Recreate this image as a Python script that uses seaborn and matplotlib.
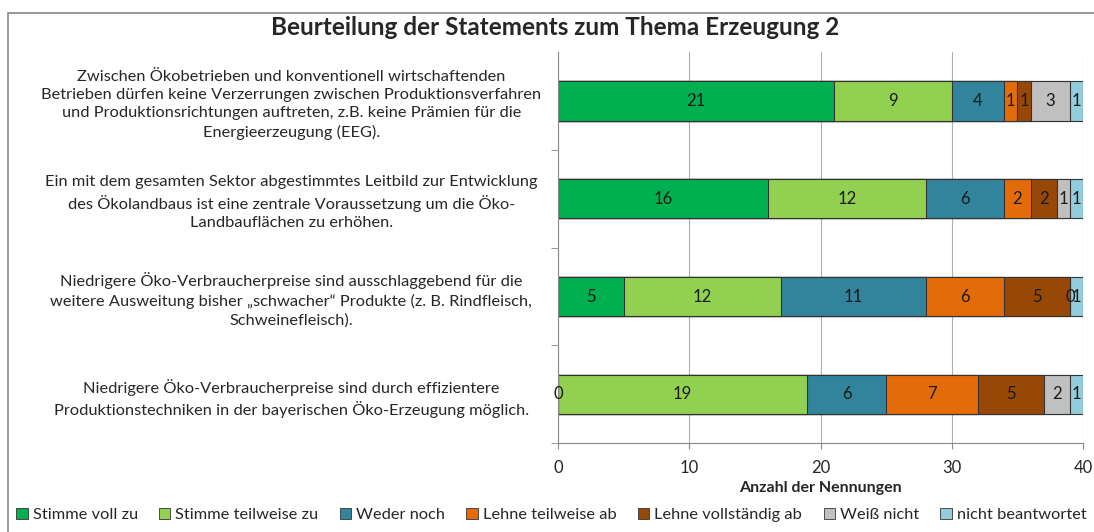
import numpy as np
import pandas as pd
import matplotlib.pyplot as plt
import seaborn as sns
from matplotlib.patches import Rectangle, Patch

# Data
statements = [
    "Zwischen Ökobetrieben und konventionell wirtschaftenden\n"
    "Betrieben dürfen keine Verzerrungen zwischen Produktionsverfahren\n"
    "und Produktionsrichtungen auftreten, z.B. keine Prämien für die\n"
    "Energieerzeugung (EEG).",
    "Ein mit dem gesamten Sektor abgestimmtes Leitbild zur Entwicklung\n"
    "des Ökolandbaus ist eine zentrale Voraussetzung um die Öko-\n"
    "Landbauflächen zu erhöhen.",
    "Niedrigere Öko-Verbraucherpreise sind ausschlaggebend für die\n"
    "weitere Ausweitung bisher „schwacher“ Produkte (z. B. Rindfleisch,\n"
    "Schweinefleisch).",
    "Niedrigere Öko-Verbraucherpreise sind durch effizientere\n"
    "Produktionstechniken in der bayerischen Öko-Erzeugung möglich.",
]
responses = ["Stimme voll zu", "Stimme teilweise zu", "Weder noch",
             "Lehne teilweise ab", "Lehne vollständig ab", "Weiß nicht",
             "nicht beantwortet"]
stimme_voll = [21, 16, 5, 0]
stimme_teilweise = [9, 12, 12, 19]
weder_noch = [4, 6, 11, 6]
lehne_teilweise = [1, 2, 6, 7]
lehne_vollstaendig = [1, 2, 5, 5]
weiss_nicht = [3, 1, 0, 2]
nicht_beantwortet = [1, 1, 1, 1]
colors = ["#00B050", "#92D050", "#31849B", "#E36C09", "#974706",
          "#C0C0C0", "#93CDDD"]

df = pd.DataFrame({
    "Statement": statements,
    "Stimme voll zu": stimme_voll,
    "Stimme teilweise zu": stimme_teilweise,
    "Weder noch": weder_noch,
    "Lehne teilweise ab": lehne_teilweise,
    "Lehne vollständig ab": lehne_vollstaendig,
    "Weiß nicht": weiss_nicht,
    "nicht beantwortet": nicht_beantwortet,
})
cum = df[responses].cumsum(axis=1)

sns.set_style("white")
plt.rcParams["font.family"] = ["Lato", "DejaVu Sans"]

fig = plt.figure(figsize=(10.94, 5.32), dpi=100)
ax = fig.add_axes([0.510, 0.167, 0.480, 0.735])

# stacked bars: draw cumulative totals from the last category to the first
for resp, col in reversed(list(zip(responses, colors))):
    sns.barplot(x=cum[resp], y=df["Statement"], color=col, orient="h",
                width=0.4, saturation=1, edgecolor="#333333", linewidth=0.8,
                ax=ax, order=statements)

# value labels
for i in range(len(statements)):
    for resp in responses:
        v = df.loc[i, resp]
        x = cum.loc[i, resp] - v / 2
        ax.text(x, i, str(v), ha="center", va="center", fontsize=12,
                color="#1a1a1a")

ax.set_xlim(0, 40)
ax.set_ylim(3.5, -0.5)
ax.set_xticks([0, 10, 20, 30, 40])
ax.xaxis.grid(True, color="#b0b0b0", linewidth=0.8)
ax.set_axisbelow(True)
ax.set_xlabel("Anzahl der Nennungen", fontsize=11.5, fontweight="bold",
              labelpad=4)
ax.set_ylabel("")
ax.tick_params(axis="x", labelsize=12, length=4, color="#888888",
               bottom=True, pad=8)
ax.set_yticks(range(len(statements)))
ax.set_yticklabels(statements, ha="center", multialignment="center",
                   fontsize=11.8, linespacing=1.4)
ax.tick_params(axis="y", length=0, pad=192)
ax.set_yticks([0.5, 1.5, 2.5, 3.5], minor=True)
ax.tick_params(axis="y", which="minor", length=5, left=True,
               color="#888888")
for s in ["top", "right"]:
    ax.spines[s].set_visible(False)
for s in ["left", "bottom"]:
    ax.spines[s].set_color("#888888")

fig.suptitle("Beurteilung der Statements zum Thema Erzeugung 2",
             fontsize=17.5, fontweight="bold", x=0.507, y=0.97)

handles = [Patch(facecolor=c, edgecolor="#333333", linewidth=0.6)
           for c in colors]
fig.legend(handles, responses, loc="center", bbox_to_anchor=(0.504, 0.032),
           ncol=7, frameon=False, fontsize=11.8, handlelength=0.7,
           handleheight=0.7, handletextpad=0.3, columnspacing=1.3)

fig.add_artist(Rectangle((8 / 1094, -0.01), 1.0, 1 - 13 / 532 + 0.01,
                         transform=fig.transFigure, fill=False,
                         edgecolor="#888888", linewidth=1.2))

plt.savefig("out.png", dpi=100)
